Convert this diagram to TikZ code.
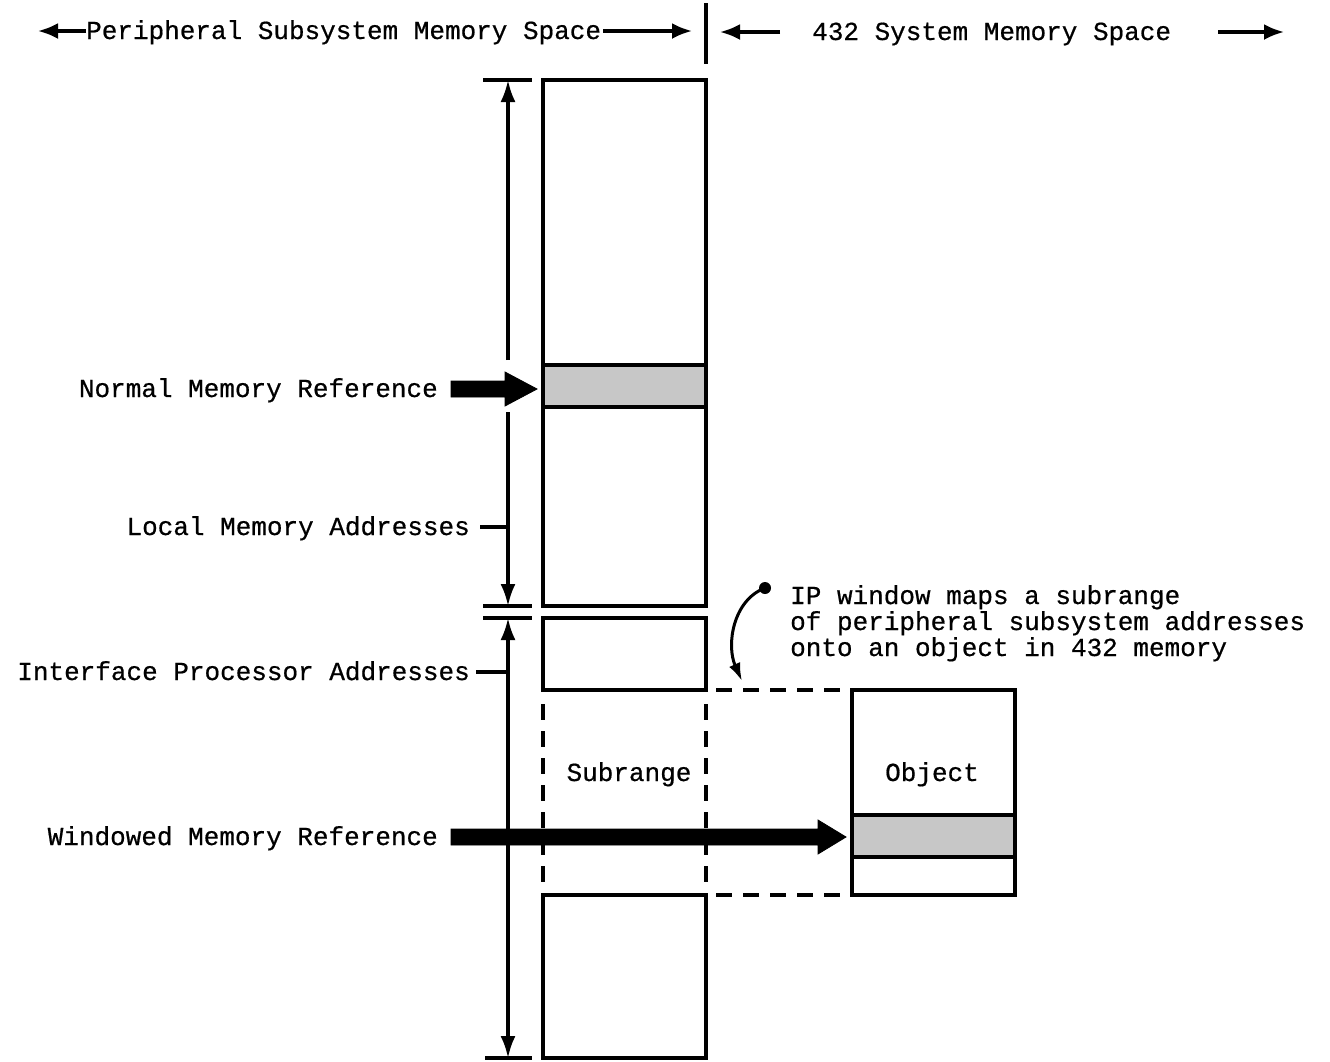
\documentclass[tikz,border=0pt]{standalone}
\usepackage{fontspec}
\setmonofont[FakeBold=0.6]{Liberation Mono}
\usetikzlibrary{arrows.meta,calc}
\begin{document}
\begin{tikzpicture}[x=1pt,y=-1pt,
  lbl/.style={font=\ttfamily\fontsize{26}{26}\selectfont, inner sep=0pt, text=black},
  heavy/.style={line width=3.6pt, line cap=rect},
  dimline/.style={line width=3.2pt},
  dashline/.style={line width=3.2pt, dash pattern=on 16pt off 11pt},
  shade/.style={fill=black!22},
  fatarrow/.style={fill=black, draw=black, line width=0.8pt, line join=miter},
  hdarrow/.style={line width=3.2pt, -{Latex[length=20pt,width=16pt]}},
  dimarrow/.style={line width=3.2pt, -{Latex[length=22pt,width=15pt]}}
]
\useasboundingbox (0,0) rectangle (1330,1061);

% ---------- header ----------
\node[lbl, anchor=base west] (hleft) at (86,39) {Peripheral Subsystem Memory Space};
\node[lbl, anchor=base west] (hright) at (812,40) {432 System Memory Space};
\coordinate (divtop) at (706,5);
\coordinate (divbot) at (706,62);
\draw[heavy] (divtop) -- (divbot);
\coordinate (hlA) at (38,31);
\coordinate (hlB) at (692,31);
\coordinate (hrA) at (720,32);
\coordinate (hrB) at (1284,32);
\draw[hdarrow] (hleft.west |- hlA) -- (hlA);
\draw[hdarrow] (hleft.east |- hlB) ++(2,0) -- (hlB);
\draw[hdarrow] (780,32) -- (hrA);
\draw[hdarrow] (1218,32) -- (hrB);

% ---------- local memory column ----------
\draw[shade] (543,365) rectangle (706,407);
\draw[heavy] (543,80) rectangle (706,606);
\draw[heavy] (543,365) -- (706,365);
\draw[heavy] (543,407) -- (706,407);

% ---------- IP column ----------
\draw[heavy] (543,690) -- (543,618) -- (706,618) -- (706,690) -- cycle;
\draw[heavy] (543,895) -- (543,1058) -- (706,1058) -- (706,895) -- cycle;
\draw[dashline] (543,704) -- (543,895);
\draw[dashline] (706,704) -- (706,895);
\draw[dashline] (716,690) -- (852,690);
\draw[dashline] (716,895) -- (852,895);
\node[lbl, anchor=base] (sub) at (629,781) {Subrange};

% ---------- object ----------
\draw[shade] (852,815) rectangle (1015,857);
\draw[heavy] (852,690) rectangle (1015,895);
\draw[heavy] (852,815) -- (1015,815);
\draw[heavy] (852,857) -- (1015,857);
\node[lbl, anchor=base] (obj) at (932,781) {Object};

% ---------- dimension lines ----------
\coordinate (t1) at (508,80);
\coordinate (t2) at (508,606);
\coordinate (t3) at (508,618);
\coordinate (t4) at (508,1058);
\draw[dimline] (483,80) -- (532,80);
\draw[dimline] (483,606) -- (532,606);
\draw[dimline] (483,618) -- (532,618);
\draw[dimline] (485,1058) -- (532,1058);
\draw[dimarrow] (508,360) -- (t1);
\draw[dimarrow] (508,412) -- (t2);
\draw[dimarrow] (508,700) -- (t3);
\draw[dimarrow] (508,700) -- (t4);

% ---------- left labels ----------
\node[lbl, anchor=base east] (normal) at (438,397) {Normal Memory Reference};
\node[lbl, anchor=base east] (local) at (470,535) {Local Memory Addresses};
\node[lbl, anchor=base east] (iface) at (470,680) {Interface Processor Addresses};
\node[lbl, anchor=base east] (window) at (438,845) {Windowed Memory Reference};
\draw[dimline] (480,527) -- (508,527);
\draw[dimline] (476,672) -- (508,672);

% ---------- fat arrows ----------
\draw[fatarrow] (451,381) -- (505,381) -- (505,372) -- (537,389) -- (505,406) -- (505,397) -- (451,397) -- cycle;
\draw[fatarrow] (451,829) -- (818,829) -- (818,820) -- (846,837) -- (818,854) -- (818,845) -- (451,845) -- cycle;

% ---------- annotation ----------
\node[lbl, anchor=base west] (a1) at (790,604) {IP window maps a subrange};
\node[lbl, anchor=base west] (a2) at (790,630) {of peripheral subsystem addresses};
\node[lbl, anchor=base west] (a3) at (790,656) {onto an object in 432 memory};
\fill (765,588) circle (6pt);
\coordinate (dot) at (765,588);
\coordinate (tgt) at (742,681);
\draw[line width=3pt, -{Latex[length=18pt,width=12pt]}] (dot) .. controls (733,600) and (726,645) .. (tgt);
\end{tikzpicture}
\end{document}
